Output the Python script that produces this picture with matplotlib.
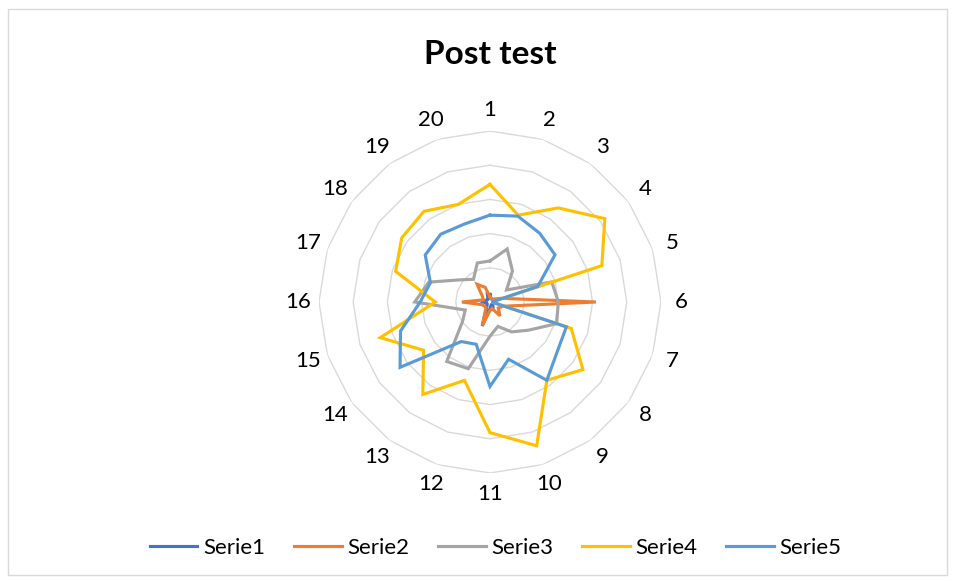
import numpy as np
import matplotlib
matplotlib.use('Agg')
import matplotlib.pyplot as plt
import matplotlib.patheffects as pe
from matplotlib.patches import Rectangle

plt.rcParams['font.family'] = ['Lato', 'DejaVu Sans']

# categories 1..20 around the radar
categories = [str(i) for i in range(1, 21)]

# values (outer ring = 5)
serie1 = [0.22, 0.1, 0.1, 0.1, 0.1, 0.15, 0.1, 0.1, 0.15, 0.1, 0.2, 0.74, 0.15, 0.1, 0.1, 0.2, 0.15, 0.1, 0.1, 0.25]
serie2 = [0.15, 0.1, 0.1, 0.15, 0.35, 3.1, 0.4, 0.3, 0.5, 0.2, 0.25, 0.72, 0.2, 0.2, 0.25, 0.82, 0.2, 0.27, 0.64, 0.45]
serie3 = [1.2, 1.63, 1.12, 0.6, 1.9, 2.0, 2.05, 1.4, 1.08, 0.75, 1.0, 2.05, 2.15, 1.0, 0.76, 2.2, 1.88, 1.1, 0.82, 1.2]
serie4 = [3.44, 2.67, 3.4, 4.15, 3.44, 0.05, 2.5, 3.36, 2.83, 4.42, 3.82, 2.41, 3.34, 2.4, 3.37, 1.6, 2.9, 3.19, 3.28, 3.0]
serie5 = [2.54, 2.64, 2.48, 2.35, 1.47, 0.05, 2.35, 2.44, 2.83, 1.76, 2.47, 1.3, 1.43, 3.25, 2.75, 2.04, 1.83, 2.34, 2.45, 2.4]

series = [('Serie1', serie1, '#4472C4'),
          ('Serie2', serie2, '#ED7D31'),
          ('Serie3', serie3, '#A5A5A5'),
          ('Serie4', serie4, '#FFC000'),
          ('Serie5', serie5, '#5B9BD5')]

fig = plt.figure(figsize=(9.55, 5.81), dpi=100)

# light frame round the chart
fig.patches.append(Rectangle((8 / 955, 6 / 581), 939 / 955, 566 / 581, transform=fig.transFigure,
                             fill=False, edgecolor='#D9D9D9', linewidth=1))

ax = fig.add_axes([0.334, 0.1859, 0.3581, 0.5886], projection='polar')
ax.set_theta_zero_location('N')
ax.set_theta_direction(-1)
ax.set_ylim(0, 5)
ax.grid(False)
ax.set_xticks([])
ax.set_yticks([])
ax.spines['polar'].set_visible(False)
ax.patch.set_alpha(0)

angles = np.deg2rad(np.arange(len(categories)) * 360 / len(categories))
closed = np.append(angles, angles[0])

# polygon rings
for ring in range(1, 6):
  ax.plot(closed, [ring] * len(closed), color='#D9D9D9', linewidth=1, zorder=1)

# category labels
for ang, lab in zip(angles, categories):
  ax.text(ang, 5.6, lab, ha='center', va='center', fontsize=16, color='#000000')

shadow = [pe.SimpleLineShadow(offset=(1, -1.5), shadow_color='#000000', alpha=0.12), pe.Normal()]
for name, vals, col in series:
  ax.plot(closed, vals + vals[:1], color=col, linewidth=2.25, label=name,
          solid_joinstyle='miter', path_effects=shadow, zorder=3)

fig.text(0.513, 0.907, 'Post test', ha='center', va='center', fontsize=24, fontweight='bold')

handles, labels = ax.get_legend_handles_labels()
for h in handles:
  h.set_path_effects([])
fig.legend(handles, labels, loc='center', bbox_to_anchor=(0.519, 0.057), ncol=5, frameon=False,
           fontsize=16, handlelength=2.15, handletextpad=0.25, columnspacing=1.3)

fig.savefig('out.png', dpi=100)
